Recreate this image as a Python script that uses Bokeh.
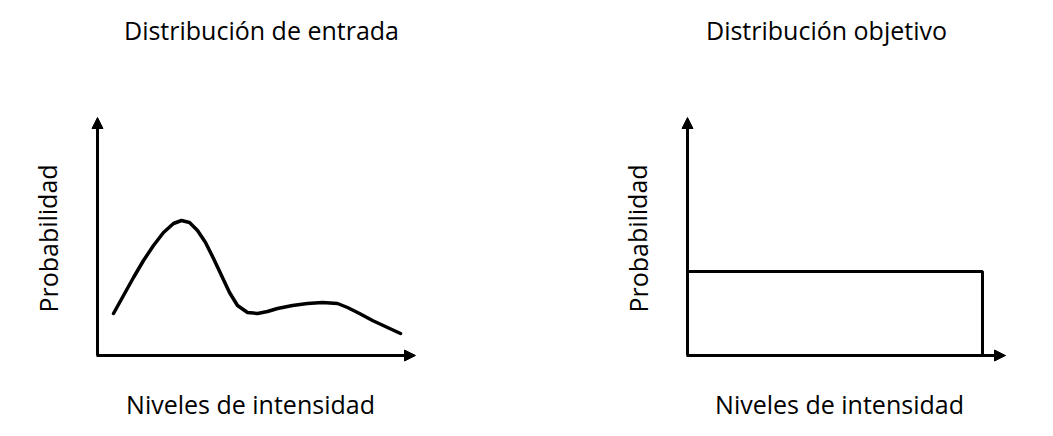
from bokeh.plotting import figure
from bokeh.models import Range1d, Arrow, NormalHead, Label
from bokeh.embed import file_html
from bokeh.resources import INLINE

# panel data (intensity level, probability) in panel units (pixels from origin)
input_levels = [16, 26, 36, 46, 56, 66, 76, 84, 92, 100, 108, 116, 124, 132, 140, 150, 160, 170, 180,
                195, 210, 225, 240, 250, 262, 275, 290, 303]
input_prob = [42, 60, 78, 95, 110, 123, 132, 135, 133, 125, 113, 97, 80, 63, 50, 43, 42, 44, 47,
              50, 52, 53, 52, 48, 42, 35, 28, 22]
target_levels = [0, 295, 295]
target_prob = [84, 84, 0]
titles = ["Distribución de entrada", "Distribución objetivo"]
xlabel = "Niveles de intensidad"
ylabel = "Probabilidad"

W, H = 1037, 420
p = figure(width=W, height=H, output_backend="svg", toolbar_location=None,
           x_range=Range1d(0, W), y_range=Range1d(H, 0), min_border=0)
p.axis.visible = False
p.grid.visible = False
p.outline_line_color = None

origins = [(97, 355), (687, 355)]
ends_x = [415, 1005]
top_y = 117
font = "Open Sans"
title_x = [261, 826]
xlab_x = [250, 839]
for i, (ox, oy) in enumerate(origins):
    for (x1, y1, x2, y2) in [(ox, oy, ox, top_y), (ox - 1, oy, ends_x[i], oy)]:
        p.add_layout(Arrow(end=NormalHead(size=11, fill_color="black", line_color="black"),
                           x_start=x1, y_start=y1, x_end=x2, y_end=y2,
                           line_width=3, line_color="black"))
    p.add_layout(Label(x=title_x[i], y=29, text=titles[i], text_font=font, text_color="black",
                       text_font_size="25px", text_align="center", text_baseline="middle"))
    p.add_layout(Label(x=xlab_x[i], y=403, text=xlabel, text_font=font, text_color="black",
                       text_font_size="25px", text_align="center", text_baseline="middle"))
    p.add_layout(Label(x=ox - 50, y=238, text=ylabel, text_font=font, angle=1.5708, text_color="black",
                       text_font_size="25px", text_align="center", text_baseline="middle"))

p.line([origins[0][0] + v for v in input_levels], [origins[0][1] - v for v in input_prob],
       line_width=3.5, line_color="black", line_join="round", line_cap="round")
p.line([origins[1][0] + v for v in target_levels], [origins[1][1] - v for v in target_prob],
       line_width=3, line_color="black")

open("out.html", "w").write(file_html(p, INLINE))
